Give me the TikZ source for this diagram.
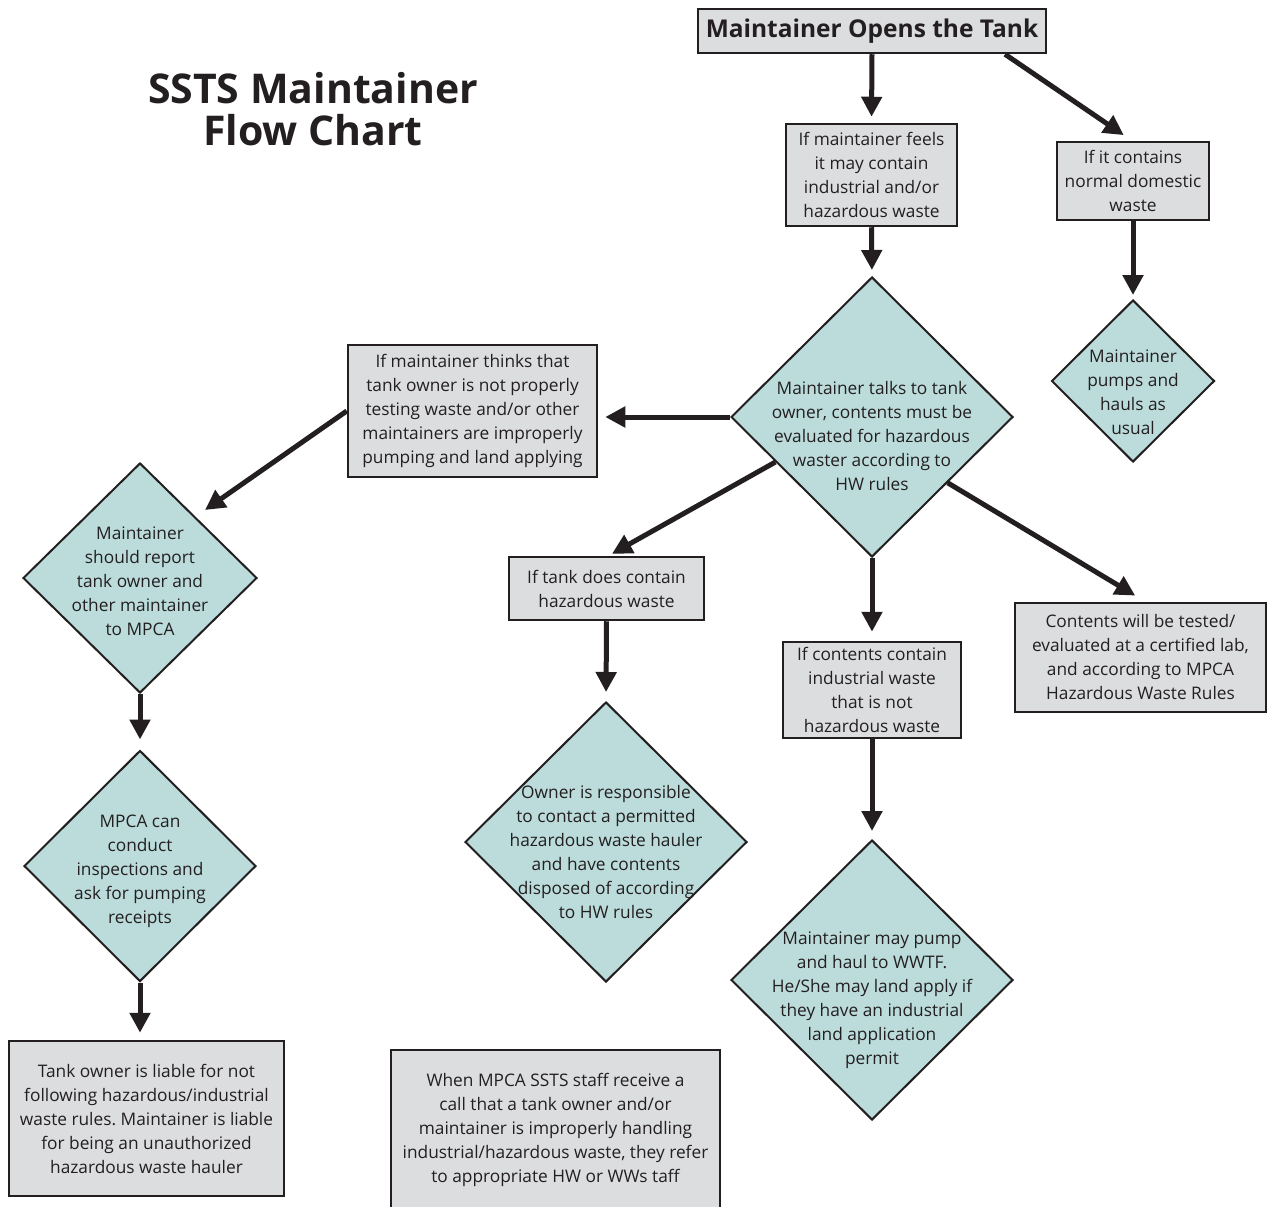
\documentclass[tikz,border=0pt]{standalone}
\usepackage{fontspec}
\setmainfont{Open Sans}
\usetikzlibrary{arrows.meta,shapes.geometric,positioning}

\definecolor{ink}{HTML}{231F20}
\definecolor{boxgray}{HTML}{DCDDDF}
\definecolor{diamondfill}{HTML}{BCDCDC}

\newcommand{\bodyfont}{\fontsize{17.3}{24}\selectfont}
\newcommand{\titlefont}{\bfseries\fontsize{41}{42}\selectfont}
\frenchspacing

\begin{document}
\begin{tikzpicture}[x=1pt,y=-1pt]

\tikzset{infobox/.style={draw=ink, fill=boxgray, line width=2.5pt, inner sep=0pt,
    align=center, text=ink, font=\bodyfont},
  decision/.style={diamond, draw=ink, fill=diamondfill, line width=2pt, inner sep=0pt},
  dtext/.style={align=center, text=ink, font=\bodyfont},
  flow/.style={-{Triangle[length=20pt,width=20pt]}, line width=5pt, draw=ink, shorten >=#1},
  flow/.default=6pt}

    \path[fill=white, use as bounding box] (0,0) rectangle (1270,1207);

    % Title
    \node[align=center, text=ink, font=\titlefont] (title) at (313,109)
    {SSTS Maintainer\\Flow Chart};

    % Top of the chart
    \node[infobox, minimum width=348pt, minimum height=44pt,
    font=\bfseries\fontsize{24.5}{28}\selectfont] (top) at (872,31)
    {Maintainer Opens the Tank};
    \node[infobox, minimum width=171pt, minimum height=102pt] (a) at (871.5,175)
    {If maintainer feels\\it may contain\\industrial and/or\\hazardous waste};
    \node[infobox, minimum width=152pt, minimum height=78pt] (b) at (1133,181)
    {If it contains\\normal domestic\\waste};

    % Decision diamonds
    \node[decision, minimum width=282pt, minimum height=280pt] (d1) at (872,417) {};
    \node[dtext] (d1t) at ([yshift=-19pt]d1.center)
    {Maintainer talks to tank\\owner, contents must be\\evaluated for hazardous\\waster according to\\HW rules};
    \node[decision, minimum width=163pt, minimum height=162pt] (d2) at (1133,381) {};
    \node[dtext] (d2t) at ([yshift=-11pt]d2.center)
    {Maintainer\\pumps and\\hauls as\\usual};
    \node[decision, minimum width=234pt, minimum height=230pt] (d3) at (140,578) {};
    \node[dtext] (d3t) at ([yshift=-3pt]d3.center)
    {Maintainer\\should report\\tank owner and\\other maintainer\\to MPCA};
    \node[decision, minimum width=232pt, minimum height=231pt] (d4) at (140,866) {};
    \node[dtext] (d4t) at ([yshift=-5pt]d4.center)
    {MPCA can\\conduct\\inspections and\\ask for pumping\\receipts};
    \node[decision, minimum width=282pt, minimum height=280pt] (d5) at (606,842) {};
    \node[dtext] (d5t) at ([yshift=-10pt]d5.center)
    {Owner is responsible\\to contact a permitted\\hazardous waste hauler\\and have contents\\disposed of according\\to HW rules};
    \node[decision, minimum width=282pt, minimum height=280pt] (d6) at (872,980) {};
    \node[dtext] (d6t) at ([yshift=-20pt]d6.center)
    {Maintainer may pump\\and haul to WWTF.\\He/She may land apply if\\they have an industrial\\land application\\permit};

    % Boxes
    \node[infobox, minimum width=249pt, minimum height=132pt] (c) at (472.5,411)
    {If maintainer thinks that\\tank owner is not properly\\testing waste and/or other\\maintainers are improperly\\pumping and land applying};
    \node[infobox, minimum width=195pt, minimum height=63pt] (f) at (606.5,588.5)
    {If tank does contain\\hazardous waste};
    \node[infobox, minimum width=178pt, minimum height=96pt] (g) at (872,690)
    {If contents contain\\industrial waste\\that is not\\hazardous waste};
    \node[infobox, minimum width=251pt, minimum height=109pt] (h) at (1140.5,657.5)
    {Contents will be tested/\\evaluated at a certified lab,\\and according to MPCA\\Hazardous Waste Rules};
    \node[infobox, minimum width=275pt, minimum height=155pt] (e) at (146.5,1118.5)
    {Tank owner is liable for not\\following hazardous/industrial\\waste rules. Maintainer is liable\\for being an unauthorized\\hazardous waste hauler};
    \node[infobox, minimum width=329pt, minimum height=160pt] (i) at (555.5,1130)
    {When MPCA SSTS staff receive a\\call that a tank owner and/or\\maintainer is improperly handling\\industrial/hazardous waste, they refer\\to appropriate HW or WWs taff};

    % Arrows
    \draw[flow] (top.south) -- (a.north);
    \draw[flow=10pt] ([xshift=133pt]top.south) -- ([xshift=-1pt]b.north);
    \draw[flow] (a.south) -- (d1.north);
    \draw[flow=4pt] (b.south) -- (d2.north);
    \draw[flow=7pt] (d1.west) -- (d1.west -| c.east);
    \draw[flow=0pt] (c.west) -- ([shift={(65,-68)}]d3.center);
    \draw[flow=10pt] (d3.south) -- (d4.north);
    \draw[flow=7pt] (d4.south) -- (d4.south |- e.north);
    \draw[flow=4pt] (d1.205) -- ([xshift=2pt]f.north);
    \draw[flow=9pt] (d1.south) -- (g.north);
    \draw[flow=12pt] (d1.-41) -- ([xshift=5pt]h.north);
    \draw[flow=9pt] (f.south) -- (d5.north);
    \draw[flow=8pt] (g.south) -- (d6.north);

\end{tikzpicture}
\end{document}
